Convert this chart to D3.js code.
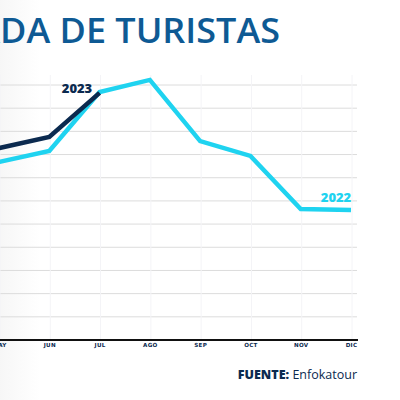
<!DOCTYPE html>
<html><head><meta charset="utf-8">
<script src="https://cdn.jsdelivr.net/npm/d3@7"></script>
<style>html,body{margin:0;padding:0;background:#fff;overflow:hidden}</style>
</head><body>
<svg id="c" width="400" height="400"></svg>
<script>
const months = ["MAY","JUN","JUL","AGO","SEP","OCT","NOV","DIC"];
const series2022 = [76.8, 81.5, 107.0, 112.2, 85.8, 79.4, 56.5, 56.1];
const series2023 = [82.8, 87.6, 106.6];
const yTicks = [0,10,20,30,40,50,60,70,80,90,100,110];

const svg = d3.select("#c");
const defs = svg.append("defs");
const grad = defs.append("linearGradient").attr("id","shade").attr("x1",0).attr("x2",1);
grad.append("stop").attr("offset",0).attr("stop-color","#f1f1f1");
grad.append("stop").attr("offset",1).attr("stop-color","#ffffff");
svg.append("rect").attr("width",400).attr("height",400).attr("fill","#fff");
svg.append("rect").attr("x",0).attr("y",0).attr("width",40).attr("height",400).attr("fill","url(#shade)").attr("opacity",0.6);

const x = d3.scalePoint().domain(months).range([-1, 351]);
const y = d3.scaleLinear().domain([0,110]).range([340, 85]);

// gridlines
svg.append("g").selectAll("line").data(yTicks.slice(1)).join("line")
  .attr("x1",0).attr("x2",357).attr("y1",d=>y(d)).attr("y2",d=>y(d))
  .attr("stroke","#dcdcdc").attr("stroke-width",1);
svg.append("g").selectAll("line").data(months).join("line")
  .attr("x1",d=>x(d)+1).attr("x2",d=>x(d)+1).attr("y1",75).attr("y2",340)
  .attr("stroke","#f4f4f7").attr("stroke-width",1);

// x axis
const xAxis = svg.append("g").attr("transform","translate(0,340)")
  .call(d3.axisBottom(x).tickSize(0).tickPadding(4));
xAxis.select(".domain").attr("d","M0,0H358").attr("stroke","#111").attr("stroke-width",2);
xAxis.selectAll("text").attr("fill","#0b2a4f").attr("font-family","'DejaVu Sans', sans-serif")
  .attr("font-weight",700).attr("font-size",5.6).attr("letter-spacing",0.3).attr("dy","0.6em");

const line = d3.line().x((d,i)=>x(months[i])).y(d=>y(d));
svg.append("path").datum(series2022).attr("d",line).attr("fill","none")
  .attr("stroke","#1fd3f0").attr("stroke-width",4.5).attr("stroke-linejoin","miter");
svg.append("path").datum(series2023).attr("d",line).attr("fill","none")
  .attr("stroke","#0b2a4f").attr("stroke-width",4.5).attr("stroke-linejoin","miter");

svg.append("text").attr("x",77).attr("y",93).attr("text-anchor","middle")
  .attr("font-family","'Open Sans', sans-serif").attr("font-weight",800).attr("font-size",13)
  .attr("fill","#0b2a4f").text("2023");
svg.append("text").attr("x",336).attr("y",202).attr("text-anchor","middle")
  .attr("font-family","'Open Sans', sans-serif").attr("font-weight",800).attr("font-size",13)
  .attr("fill","#1fd3f0").text("2022");

// title (stretched horizontally so "DA DE TURISTAS" spans 0..280 like the reference)
const titleG = svg.append("g");
const title = titleG.append("text").attr("x",0).attr("y",43).attr("text-anchor","end")
  .attr("font-family","'Open Sans', sans-serif").attr("font-weight",600).attr("font-size",34)
  .attr("fill","#0e5a94").text("LLEGADA DE TURISTAS");
const probe = svg.append("text").attr("font-family","'Open Sans', sans-serif").attr("font-weight",600)
  .attr("font-size",34).text("DA DE TURISTAS");
const w = probe.node().getComputedTextLength();
probe.remove();
const sx = 280 / w;
titleG.attr("transform",`translate(280,0) scale(${sx},1)`);

// source
const src = svg.append("text").attr("x",357).attr("y",379).attr("text-anchor","end")
  .attr("font-family","'Open Sans', sans-serif").attr("font-size",12.5).attr("fill","#0b2a4f");
src.append("tspan").attr("font-weight",800).text("FUENTE: ");
src.append("tspan").attr("font-weight",400).text("Enfokatour");
</script>
</body></html>
